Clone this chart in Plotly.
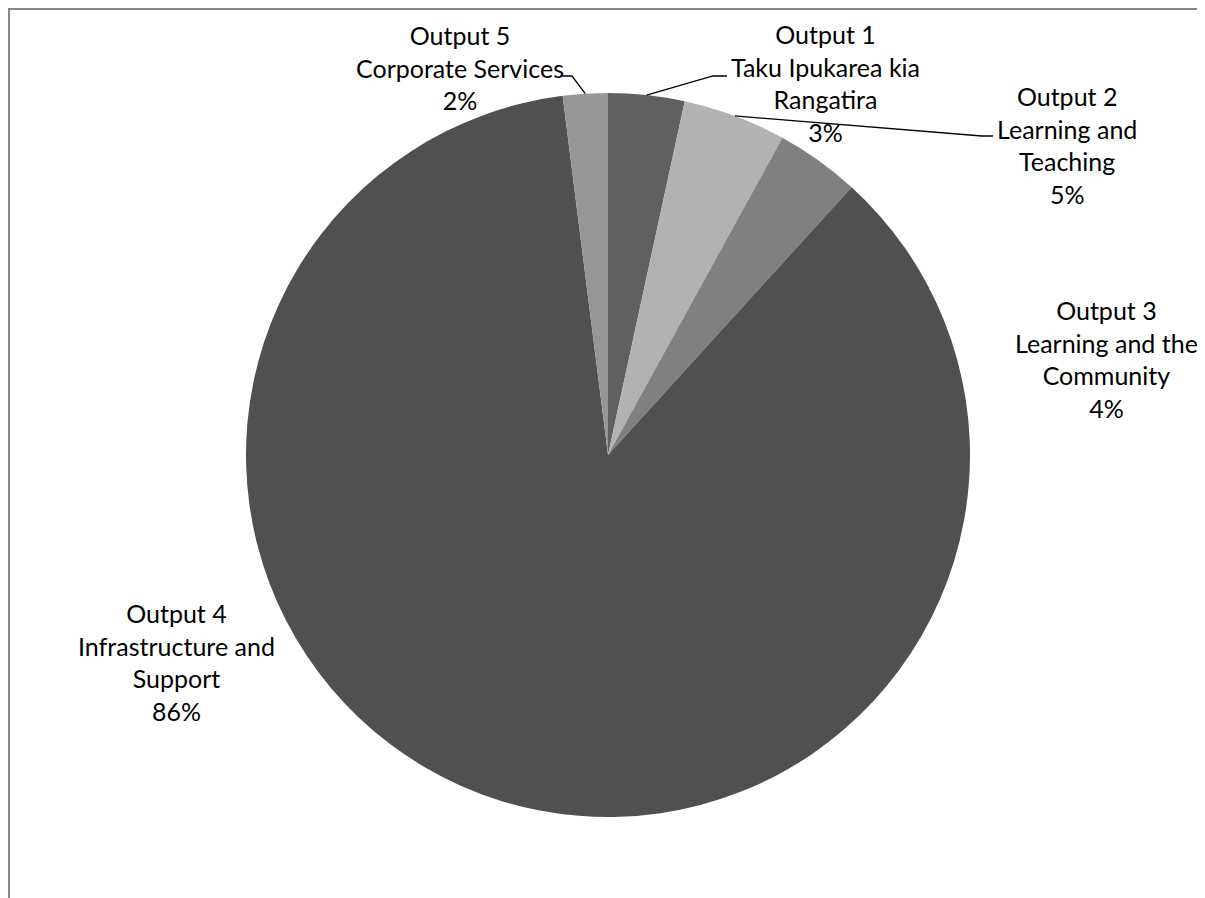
import math
import plotly.graph_objects as go

# ---- data ----
labels = ["Output 1<br>Taku Ipukarea kia<br>Rangatira",
          "Output 2<br>Learning and<br>Teaching",
          "Output 3<br>Learning and the<br>Community",
          "Output 4<br>Infrastructure and<br>Support",
          "Output 5<br>Corporate Services"]
values = [3.4, 4.6, 3.75, 86.25, 2.0]
pct_text = ["3%", "5%", "4%", "86%", "2%"]
colors = ["#606060", "#b2b2b2", "#808080", "#505050", "#969696"]

# ---- layout settings (page pixels of the reference) ----
OFF = 8                      # page body margin
W, H = 1189, 890             # figure size
CX, CY, R = 608, 455, 362
# label block centres
label_pos = [(825, 83), (1067, 145), (1106, 359), (176, 662), (460, 68)]
# leader lines: (elbow, end) or None
leaders = [((713, 76), (727, 76)),
           ((982, 136), (993, 136)),
           None,
           None,
           ((572, 76), (560, 76))]


def px(x):
    return (x - OFF) / W


def py(y):
    return 1 - (y - OFF) / H


fig = go.Figure()
fig.add_trace(go.Pie(
    labels=[l.split("<br>")[0] for l in labels],
    values=values,
    sort=False,
    direction="clockwise",
    rotation=0,
    textinfo="none",
    hoverinfo="label+percent",
    marker=dict(colors=colors, line=dict(width=0)),
    showlegend=False,
    domain=dict(x=[px(CX - R), px(CX + R)], y=[py(CY + R), py(CY - R)]),
))

total = sum(values)
cum = 0.0
annotations = []
shapes = []
for i, v in enumerate(values):
    mid = (cum + v / 2) / total * 2 * math.pi
    cum += v
    lx, ly = label_pos[i]
    annotations.append(dict(
        x=px(lx), y=py(ly), xref="paper", yref="paper",
        text=labels[i] + "<br>" + pct_text[i],
        showarrow=False, xanchor="center", yanchor="middle",
        align="center",
        font=dict(family="Lato, Open Sans, sans-serif", size=25, color="#000000"),
    ))
    if leaders[i] is not None:
        sx = CX + R * math.sin(mid)
        sy = CY - R * math.cos(mid)
        (ex, ey), (tx, ty) = leaders[i]
        path = f"M {px(sx)},{py(sy)} L {px(ex)},{py(ey)} L {px(tx)},{py(ty)}"
        shapes.append(dict(type="path", xref="paper", yref="paper", path=path,
                           line=dict(color="#000000", width=1.3)))

# chart frame (left and top edges visible)
shapes.append(dict(type="line", xref="paper", yref="paper",
                   x0=1 / W, y0=-0.02, x1=1 / W, y1=1 - 1 / H,
                   line=dict(color="#888888", width=2)))
shapes.append(dict(type="line", xref="paper", yref="paper",
                   x0=0, y0=1 - 1 / H, x1=1.0, y1=1 - 1 / H,
                   line=dict(color="#888888", width=2)))

fig.update_layout(
    width=W, height=H,
    margin=dict(l=0, r=0, t=0, b=0),
    paper_bgcolor="white", plot_bgcolor="white",
    annotations=annotations, shapes=shapes,
)

fig.write_html("out.html")
